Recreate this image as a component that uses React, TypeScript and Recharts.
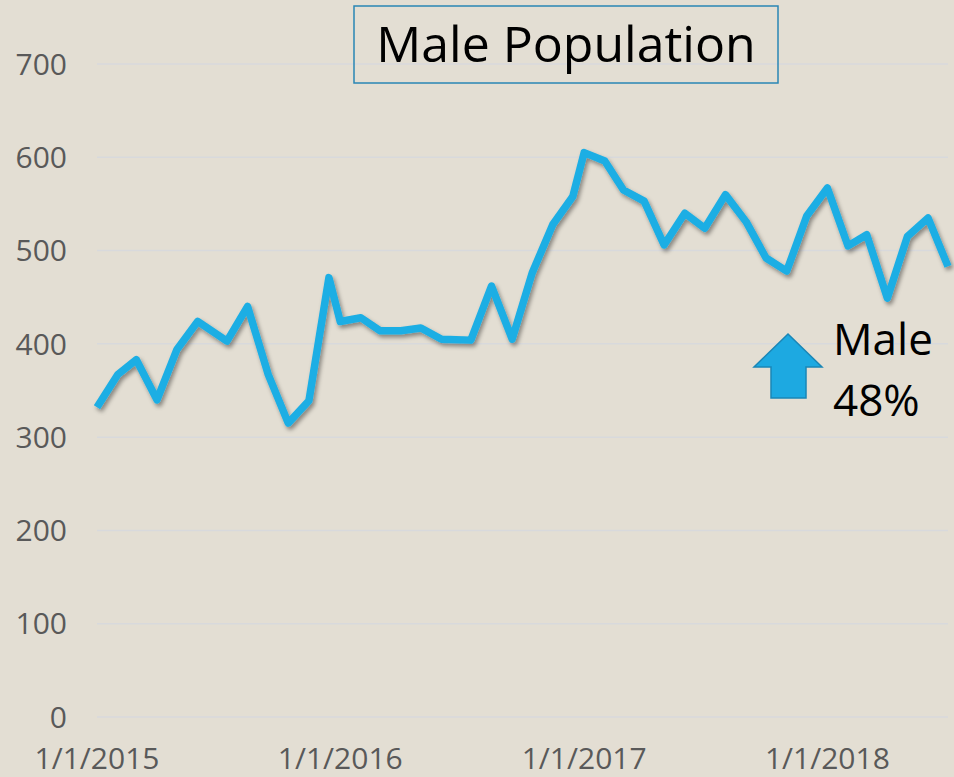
import { LineChart, Line, XAxis, YAxis, CartesianGrid } from 'recharts';

// sample dates: first half of 2015/2016 on the 1st, second half on the 15th
const dates = [
  '2015-01-01', '2015-02-01', '2015-03-01', '2015-04-01', '2015-05-01', '2015-06-01',
  '2015-07-15', '2015-08-15', '2015-09-15', '2015-10-15', '2015-11-15', '2015-12-15',
  '2016-01-01', '2016-02-01', '2016-03-01', '2016-04-01', '2016-05-01', '2016-06-01',
  '2016-07-15', '2016-08-15', '2016-09-15', '2016-10-15', '2016-11-15', '2016-12-15',
  '2017-01-01', '2017-02-01', '2017-03-01', '2017-04-01', '2017-05-01', '2017-06-01',
  '2017-07-01', '2017-08-01', '2017-09-01', '2017-10-01', '2017-11-01', '2017-12-01',
  '2018-01-01', '2018-02-01', '2018-03-01', '2018-04-01', '2018-05-01', '2018-06-01',
  '2018-07-01',
];

const malePopulation = [
  332, 367, 383, 340, 394, 424, 403, 440, 367, 315, 339, 471,
  424, 428, 414, 414, 417, 405, 404, 462, 405, 476, 528, 558,
  605, 596, 565, 553, 506, 540, 524, 560, 531, 492, 478, 537,
  567, 505, 517, 449, 515, 535, 483,
];

const yTicks = [0, 100, 200, 300, 400, 500, 600, 700];
const xTickDates = ['2015-01-01', '2016-01-01', '2017-01-01', '2018-01-01'];

const toTime = (d: string) => Date.parse(d + 'T00:00:00Z');

const data = dates.map((d, i) => ({ t: toTime(d), value: malePopulation[i] }));
const xTicks = xTickDates.map(toTime);

const formatDate = (t: number) => {
  const d = new Date(t);
  return `${d.getUTCMonth() + 1}/${d.getUTCDate()}/${d.getUTCFullYear()}`;
};

const tickStyle = { fontSize: 30, fill: '#595959' };

export default function App() {
  return (
    <div
      style={{
        position: 'absolute',
        left: 0,
        top: 0,
        width: 954,
        height: 777,
        background: '#E3DED3',
        fontFamily: '"Open Sans", sans-serif',
        overflow: 'hidden',
      }}
    >
      <svg width={0} height={0} style={{ position: 'absolute' }}>
        <defs>
          <filter id="lineShadow" x="-10%" y="-10%" width="120%" height="130%">
            <feDropShadow dx={2} dy={3} stdDeviation={2} floodColor="#000" floodOpacity={0.4} />
          </filter>
        </defs>
      </svg>
      <LineChart width={954} height={777} data={data} margin={{ top: 64, right: 6, bottom: 0, left: 0 }}>
        <CartesianGrid vertical={false} stroke="#D8D9DC" strokeWidth={1.5} />
        <XAxis
          dataKey="t"
          type="number"
          domain={[toTime('2015-01-01'), toTime('2018-07-01')]}
          ticks={xTicks}
          tickFormatter={formatDate}
          axisLine={false}
          tickLine={false}
          tickSize={0}
          tickMargin={31}
          height={60}
          tick={tickStyle}
        />
        <YAxis
          domain={[0, 700]}
          ticks={yTicks}
          axisLine={false}
          tickLine={false}
          tickSize={0}
          tickMargin={30}
          width={97}
          tick={tickStyle}
        />
        <Line
          type="linear"
          dataKey="value"
          stroke="#1DAEE4"
          strokeWidth={7.5}
          strokeLinejoin="round"
          dot={false}
          activeDot={false}
          filter="url(#lineShadow)"
          isAnimationActive={false}
        />
      </LineChart>
      <svg
        width={954}
        height={777}
        style={{ position: 'absolute', left: 0, top: 0, pointerEvents: 'none' }}
      >
        <rect x={354} y={6} width={424} height={77} fill="none" stroke="#2A86B5" strokeWidth={1.5} />
        <text x={566} y={62} textAnchor="middle" fontSize={50} fill="#000">
          Male Population
        </text>
        <polygon
          points="788,334 822,367 806,367 806,398 771,398 771,367 754,367"
          fill="#1DA9E1"
          stroke="#1A86B6"
          strokeWidth={1.5}
        />
        <text x={833} y={355} fontSize={44} fill="#000">
          Male
        </text>
        <text x={833} y={416} fontSize={44} fill="#000">
          48%
        </text>
      </svg>
    </div>
  );
}
